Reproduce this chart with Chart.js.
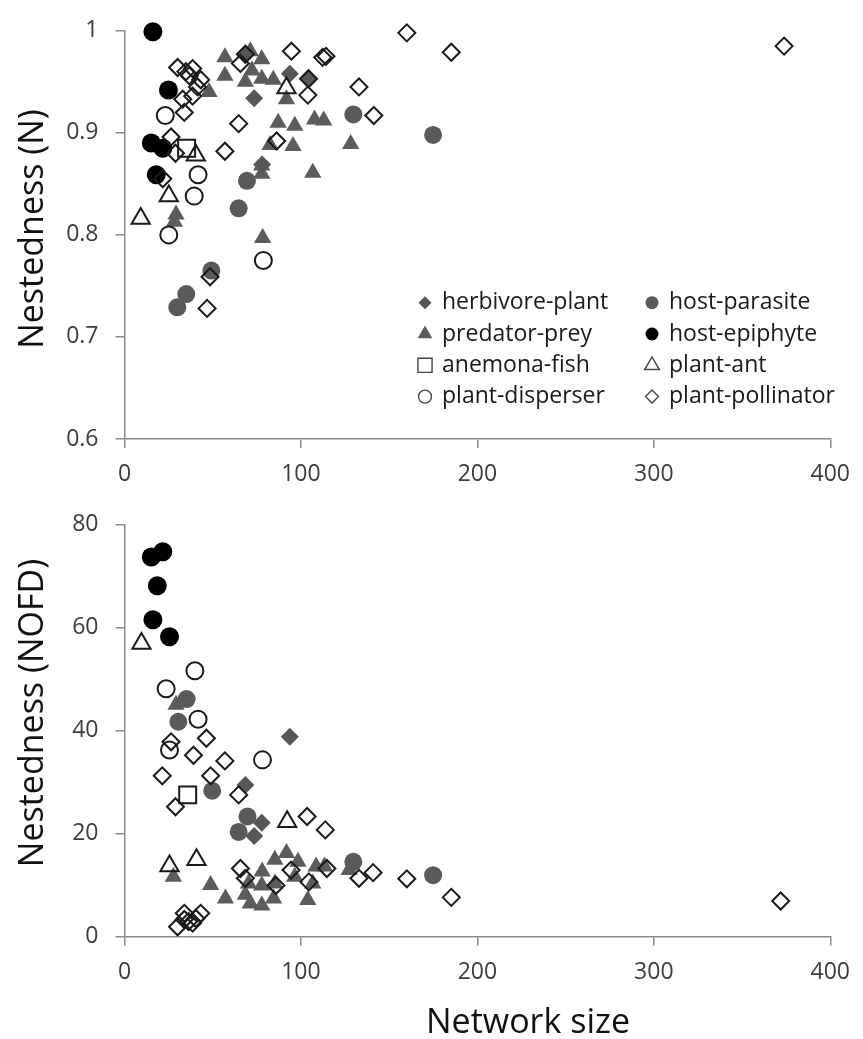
<!DOCTYPE html>
<html>
<head>
<meta charset="utf-8">
<script src="https://cdn.jsdelivr.net/npm/chart.js@4.4.1/dist/chart.umd.min.js"></script>
<style>
  html, body { margin: 0; padding: 0; background: #fff; }
  #wrap { position: relative; width: 863px; height: 1039px; }
  canvas { position: absolute; left: 0; }
  #topChart { top: 0; }
  #bottomChart { top: 485px; }
</style>
</head>
<body>
<div id="wrap">
  <canvas id="topChart" width="863" height="485"></canvas>
  <canvas id="bottomChart" width="863" height="554"></canvas>
</div>
<script>
const $ = (id) => document.getElementById(id);

// network types, in legend order (left column then right column)
const typeNames = [
  "herbivore-plant", "predator-prey", "anemona-fish", "plant-disperser",
  "host-parasite", "host-epiphyte", "plant-ant", "plant-pollinator"
];

// x ticks, shared
const sizeTicks = [0, 100, 200, 300, 400];
const nTicks = [0.6, 0.7, 0.8, 0.9, 1];
const nofdTicks = [0, 20, 40, 60, 80];

// --- Nestedness (N): [network size, N]
const herbivoreN = [[68.5, 0.977], [73.5, 0.934], [78, 0.869], [93.7, 0.958], [104.5, 0.953]];
const predatorN = [
  [56.9, 0.974], [56.9, 0.956], [71.3, 0.980], [77.8, 0.972], [68.5, 0.950], [72.2, 0.961],
  [77.8, 0.953], [84.3, 0.952], [47.9, 0.940], [91.8, 0.933], [87.1, 0.910], [96.5, 0.907],
  [107.7, 0.913], [112.9, 0.912], [82.5, 0.888], [95.5, 0.887], [128.2, 0.889], [77.8, 0.868],
  [77.8, 0.860], [106.7, 0.861], [78.3, 0.797], [29.2, 0.820], [28.3, 0.813]
];
const anemonaN = [[35.2, 0.885]];
const disperserN = [[23.1, 0.917], [41.7, 0.859], [39.5, 0.838], [25.1, 0.800], [78.7, 0.775]];
const parasiteN = [[29.9, 0.729], [35, 0.742], [49.2, 0.765], [64.7, 0.826], [69.4, 0.853], [129.7, 0.918], [174.9, 0.898]];
const epiphyteN = [[16.1, 0.999], [24.9, 0.942], [15.2, 0.890], [21.7, 0.885], [18, 0.859]];
const antN = [[9.2, 0.816], [25.1, 0.838], [40.4, 0.878], [91.8, 0.944]];
const pollinatorN = [
  [30.1, 0.964], [34.8, 0.960], [38.6, 0.963], [36.7, 0.956], [43.2, 0.952], [41.4, 0.945],
  [38.6, 0.936], [33, 0.933], [33.9, 0.920], [64.7, 0.909], [65.7, 0.968], [68.5, 0.977],
  [94.6, 0.980], [104.3, 0.953], [103.9, 0.937], [112.3, 0.974], [114.2, 0.975], [132.9, 0.945],
  [141.3, 0.917], [86.2, 0.892], [160, 0.998], [185.2, 0.979], [373.8, 0.985], [26.4, 0.896],
  [28.9, 0.880], [21.7, 0.855], [56.9, 0.882], [48.5, 0.759], [46.8, 0.728]
];

// --- Nestedness (NOFD): [network size, NOFD]
const herbivoreF = [[93.7, 38.8], [68.5, 29.4], [77.8, 22.1], [73.5, 19.5]];
const predatorF = [
  [29.2, 45.0], [27.7, 11.6], [48.8, 10.0], [57.2, 7.4], [68.5, 8.1], [71.3, 6.4],
  [78, 12.6], [77.8, 9.9], [77.8, 6.0], [85.2, 14.9], [91.8, 16.2], [84.5, 7.4],
  [98.3, 14.5], [70.3, 10.3], [85.2, 10.3], [103.9, 7.1], [108.6, 13.6], [113.3, 13.6],
  [106.7, 10.3], [127.3, 12.9], [96.5, 11.6]
];
const anemonaF = [[35.8, 27.5]];
const disperserF = [[39.9, 51.6], [23.6, 48.1], [41.7, 42.2], [25.5, 36.2], [78.2, 34.3]];
const parasiteF = [[35.2, 46.1], [30.5, 41.7], [49.7, 28.3], [69.7, 23.3], [64.7, 20.3], [129.7, 14.5], [174.9, 11.9]];
const epiphyteF = [[15.2, 73.7], [21.7, 74.7], [18.6, 68.1], [16.1, 61.5], [25.5, 58.2]];
const antF = [[9.6, 56.9], [25.5, 13.7], [40.8, 14.9], [92.2, 22.3]];
const pollinatorF = [
  [26.4, 37.8], [46.4, 38.5], [39.1, 35.2], [56.9, 34.1], [21.4, 31.2], [48.8, 31.2],
  [28.9, 25.2], [64.7, 27.5], [65.7, 13.2], [68.5, 11.3], [85.8, 9.9], [94.4, 12.9],
  [103.5, 23.3], [113.8, 20.7], [104.5, 10.6], [114.7, 13.2], [132.9, 11.3], [140.9, 12.4],
  [160, 11.2], [185.2, 7.6], [371.9, 6.9], [30.1, 1.9], [33.9, 3.3], [36.3, 2.9],
  [38.6, 2.6], [40.4, 3.5], [43.2, 4.5], [33.9, 4.5]
];

const NONE = "rgba(0,0,0,0)";
const INK = "#1a1a1a";
const styles = {
  "herbivore-plant": { pointStyle: "rectRot", radius: 9, bg: "#575757", border: "#575757", bw: 0, legendRadius: 6.5 },
  "predator-prey": { pointStyle: "triangle", radius: 10, bg: "#5c5c5c", border: "#5c5c5c", bw: 0, legendRadius: 8.5 },
  "anemona-fish": { pointStyle: "rect", radius: 12, bg: NONE, border: INK, bw: 2, legendRadius: 10 },
  "plant-disperser": { pointStyle: "circle", radius: 8.5, bg: NONE, border: INK, bw: 2, legendRadius: 6.5 },
  "host-parasite": { pointStyle: "circle", radius: 9, bg: "#5a5a5a", border: "#5a5a5a", bw: 0, legendRadius: 6.5 },
  "host-epiphyte": { pointStyle: "circle", radius: 9.5, bg: "#000", border: "#000", bw: 0, legendRadius: 6.5 },
  "plant-ant": { pointStyle: "triangle", radius: 10.5, bg: NONE, border: INK, bw: 2, legendRadius: 8.5 },
  "plant-pollinator": { pointStyle: "rectRot", radius: 8.5, bg: NONE, border: INK, bw: 2, legendRadius: 6.5 }
};

// first in list is drawn on top
const drawOrder = [
  "plant-pollinator", "plant-ant", "plant-disperser", "anemona-fish",
  "host-epiphyte", "host-parasite", "herbivore-plant", "predator-prey"
];

function makeDatasets(series) {
  return drawOrder.map((name) => {
    const s = styles[name];
    return {
      label: name,
      data: series[name].map((p) => ({ x: p[0], y: p[1] })),
      pointStyle: s.pointStyle,
      pointRadius: s.radius,
      pointHoverRadius: s.radius,
      pointBackgroundColor: s.bg,
      pointBorderColor: s.border,
      pointBorderWidth: s.bw,
      clip: false
    };
  });
}

const typeLegend = {
  id: "typeLegend",
  afterDraw(chart, args, opts) {
    if (!opts || !opts.display) return;
    const ctx = chart.ctx;
    ctx.save();
    ctx.font = '23px "Open Sans"';
    ctx.textBaseline = "middle";
    ctx.textAlign = "left";
    typeNames.forEach((name, i) => {
      const col = i < 4 ? 0 : 1;
      const x = opts.cols[col];
      const y = opts.top + (i % 4) * opts.rowGap;
      const s = styles[name];
      ctx.fillStyle = s.bg;
      ctx.strokeStyle = s.bw ? "#444" : s.border;
      ctx.lineWidth = 1.4;
      Chart.helpers.drawPoint(ctx, {
        pointStyle: s.pointStyle, radius: s.legendRadius, rotation: 0, borderWidth: s.bw ? 1.4 : 0
      }, x, y);
      ctx.fillStyle = INK;
      ctx.fillText(name, x + 17, y);
    });
    ctx.restore();
  }
};

const axisTitles = {
  id: "axisTitles",
  afterDraw(chart, args, opts) {
    const ctx = chart.ctx;
    ctx.save();
    ctx.font = '34px "Open Sans"';
    ctx.fillStyle = "#111";
    ctx.textAlign = "center";
    ctx.textBaseline = "alphabetic";
    (opts.items || []).forEach((t) => {
      ctx.save();
      ctx.translate(t.x, t.y);
      if (t.rotate) ctx.rotate(-Math.PI / 2);
      ctx.fillText(t.text, 0, 0);
      ctx.restore();
    });
    ctx.restore();
  }
};

function makeScales(yTicks, xHeight, fmt) {
  const line = "#8a8a8a";
  const tickFont = { family: '"Open Sans"', size: 23 };
  return {
    x: {
      type: "linear",
      min: sizeTicks[0],
      max: sizeTicks[sizeTicks.length - 1],
      afterBuildTicks: (s) => { s.ticks = sizeTicks.map((v) => ({ value: v })); },
      ticks: { font: tickFont, color: "#3c3c3c", padding: 13, maxRotation: 0 },
      grid: { drawOnChartArea: false, tickLength: 9, color: line, lineWidth: 1.5 },
      border: { color: line, width: 1.5 },
      afterFit: (s) => { s.height = xHeight; }
    },
    y: {
      type: "linear",
      min: yTicks[0],
      max: yTicks[yTicks.length - 1],
      afterBuildTicks: (s) => { s.ticks = yTicks.map((v) => ({ value: v })); },
      ticks: { font: tickFont, color: "#3c3c3c", padding: 17, callback: fmt },
      grid: { drawOnChartArea: false, tickLength: 9, color: line, lineWidth: 1.5 },
      border: { color: line, width: 1.5 },
      afterFit: (s) => { s.width = 124.5; }
    }
  };
}

const topSeries = {
  "herbivore-plant": herbivoreN, "predator-prey": predatorN, "anemona-fish": anemonaN,
  "plant-disperser": disperserN, "host-parasite": parasiteN, "host-epiphyte": epiphyteN,
  "plant-ant": antN, "plant-pollinator": pollinatorN
};
const bottomSeries = {
  "herbivore-plant": herbivoreF, "predator-prey": predatorF, "anemona-fish": anemonaF,
  "plant-disperser": disperserF, "host-parasite": parasiteF, "host-epiphyte": epiphyteF,
  "plant-ant": antF, "plant-pollinator": pollinatorF
};

new Chart($("topChart").getContext("2d"), {
  type: "scatter",
  data: { datasets: makeDatasets(topSeries) },
  options: {
    responsive: false,
    animation: false,
    events: [],
    layout: { padding: { left: 0, right: 24.5, top: 19.3, bottom: 0 } },
    plugins: {
      legend: { display: false },
      tooltip: { enabled: false },
      typeLegend: { display: true, cols: [425, 652], top: 302.7, rowGap: 31.3 },
      axisTitles: { items: [{ text: "Nestedness (N)", x: 43, y: 229, rotate: true }] }
    },
    scales: makeScales(nTicks, 46, (v) => String(Number(v.toFixed(1))))
  },
  plugins: [typeLegend, axisTitles]
});

new Chart($("bottomChart").getContext("2d"), {
  type: "scatter",
  data: { datasets: makeDatasets(bottomSeries) },
  options: {
    responsive: false,
    animation: false,
    events: [],
    layout: { padding: { left: 0, right: 24.5, top: 39.5, bottom: 0 } },
    plugins: {
      legend: { display: false },
      tooltip: { enabled: false },
      axisTitles: {
        items: [
          { text: "Nestedness (NOFD)", x: 43, y: 228, rotate: true },
          { text: "Network size", x: 528, y: 548, rotate: false }
        ]
      }
    },
    scales: makeScales(nofdTicks, 102.5, (v) => String(v))
  },
  plugins: [axisTitles]
});
</script>
</body>
</html>
